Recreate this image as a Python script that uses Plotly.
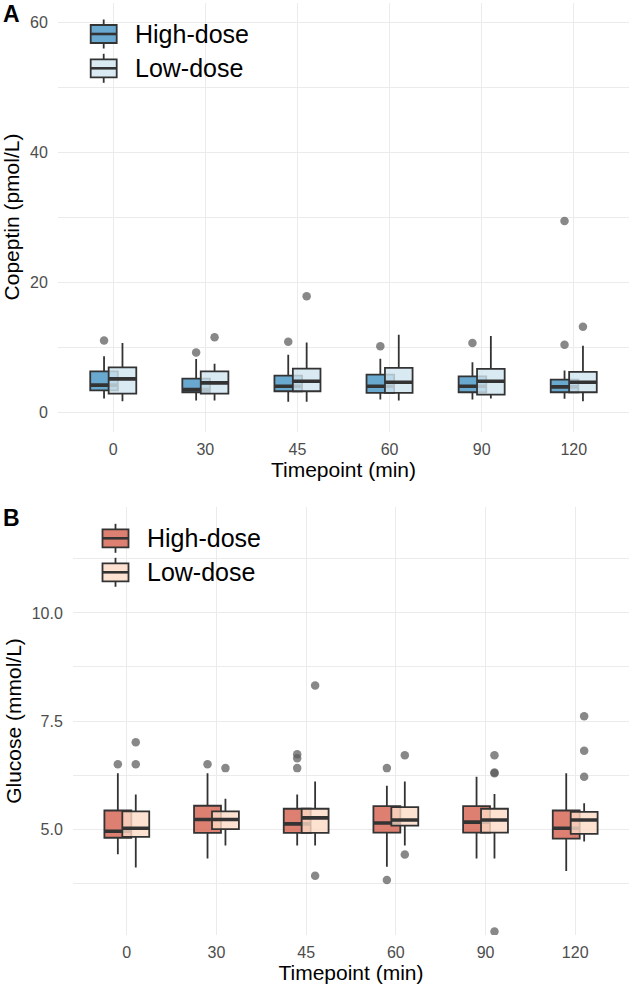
import plotly.graph_objects as go

# ---------------- data ----------------
timepoints = ["0", "30", "45", "60", "90", "120"]
groups = ["High-dose", "Low-dose"]

# Panel A: Copeptin (pmol/L) box statistics
cop_high_q1 = [3.34, 3.04, 3.19, 2.94, 3.04, 3.04]
cop_high_med = [4.14, 3.45, 3.96, 3.96, 3.96, 3.87]
cop_high_q3 = [6.26, 5.14, 5.60, 5.75, 5.49, 4.98]
cop_high_lo = [2.07, 1.76, 1.56, 1.92, 1.92, 2.02]
cop_high_hi = [8.56, 8.16, 8.82, 8.20, 7.64, 6.37]
cop_high_out_t = ["0", "30", "45", "60", "90", "120", "120"]
cop_high_out_v = [11.0, 9.17, 10.8, 10.1, 10.6, 10.35, 29.4]

cop_low_q1 = [2.84, 2.84, 3.19, 2.94, 2.68, 3.04]
cop_low_med = [5.09, 4.48, 4.72, 4.57, 4.72, 4.57]
cop_low_q3 = [6.87, 6.26, 6.67, 6.78, 6.63, 6.17]
cop_low_lo = [1.66, 1.76, 1.56, 1.76, 2.07, 1.66]
cop_low_hi = [10.6, 7.44, 10.7, 11.9, 11.7, 10.2]
cop_low_out_t = ["30", "45", "120"]
cop_low_out_v = [11.5, 17.8, 13.1]

# Panel B: Glucose (mmol/L) box statistics
glu_high_q1 = [4.80, 4.91, 4.91, 4.92, 4.92, 4.78]
glu_high_med = [4.95, 5.22, 5.12, 5.14, 5.16, 5.02]
glu_high_q3 = [5.43, 5.54, 5.47, 5.53, 5.53, 5.43]
glu_high_lo = [4.42, 4.32, 4.62, 4.13, 4.32, 4.03]
glu_high_hi = [6.29, 6.29, 5.80, 6.00, 6.21, 6.29]
glu_high_out_t = ["0", "30", "45", "45", "45", "60", "60"]
glu_high_out_v = [6.50, 6.50, 6.41, 6.64, 6.73, 3.82, 6.41]

glu_low_q1 = [4.82, 5.00, 4.91, 5.08, 4.92, 4.89]
glu_low_med = [5.02, 5.22, 5.26, 5.21, 5.21, 5.21]
glu_low_q3 = [5.41, 5.41, 5.47, 5.51, 5.47, 5.40]
glu_low_lo = [4.11, 4.62, 4.62, 4.62, 4.32, 4.71]
glu_low_hi = [5.80, 5.70, 6.10, 6.10, 5.81, 5.60]
glu_low_out_t = ["0", "0", "30", "45", "45", "60", "60", "90", "90", "90", "90", "120", "120", "120"]
glu_low_out_v = [6.50, 7.01, 6.41, 3.92, 8.32, 4.41, 6.71, 6.71, 6.31, 6.29, 2.63, 7.61, 6.81, 6.21]

# ---------------- styling ----------------
W, H = 632, 991
FONT = "Liberation Sans, Arial, Helvetica, sans-serif"
EDGE = "#333333"
GRID = "#EBEBEB"
OUT_COL = "rgba(90,90,90,0.72)"
BLUE_HIGH = "rgba(67,147,195,0.8)"
BLUE_LOW = "rgba(209,229,240,0.8)"
RED_HIGH = "rgba(214,96,77,0.8)"
RED_LOW = "rgba(253,219,199,0.8)"
BOX_W = 0.3
DODGE = 0.1


def pxx(x):
    return x / W


def pxy(y):
    return 1 - y / H


idx = {t: i for i, t in enumerate(timepoints)}

fig = go.Figure()


def add_group(q1, med, q3, lo, hi, out_t, out_v, fill, offset, xa, ya):
    xpos = [i + offset for i in range(len(timepoints))]
    fig.add_trace(go.Box(
        x=xpos, q1=q1, median=med, q3=q3, lowerfence=lo, upperfence=hi,
        width=BOX_W, whiskerwidth=0, fillcolor=fill,
        line=dict(color=EDGE, width=1.8), boxpoints=False,
        xaxis=xa, yaxis=ya, showlegend=False, hoverinfo="skip"))
    # thicker median bar (ggplot style)
    fig.add_trace(go.Box(
        x=xpos, q1=med, median=med, q3=med, lowerfence=med, upperfence=med,
        width=BOX_W, whiskerwidth=0, fillcolor="rgba(0,0,0,0)",
        line=dict(color=EDGE, width=3.6), boxpoints=False,
        xaxis=xa, yaxis=ya, showlegend=False, hoverinfo="skip"))
    fig.add_trace(go.Scatter(
        x=[idx[t] + offset for t in out_t], y=out_v, mode="markers",
        marker=dict(color=OUT_COL, size=8.5, line=dict(width=0)),
        xaxis=xa, yaxis=ya, showlegend=False, hoverinfo="skip", cliponaxis=True))


# Panel A
add_group(cop_high_q1, cop_high_med, cop_high_q3, cop_high_lo, cop_high_hi,
          cop_high_out_t, cop_high_out_v, BLUE_HIGH, -DODGE, "x", "y")
add_group(cop_low_q1, cop_low_med, cop_low_q3, cop_low_lo, cop_low_hi,
          cop_low_out_t, cop_low_out_v, BLUE_LOW, DODGE, "x", "y")
# Panel B
add_group(glu_high_q1, glu_high_med, glu_high_q3, glu_high_lo, glu_high_hi,
          glu_high_out_t, glu_high_out_v, RED_HIGH, -DODGE, "x2", "y2")
add_group(glu_low_q1, glu_low_med, glu_low_q3, glu_low_lo, glu_low_hi,
          glu_low_out_t, glu_low_out_v, RED_LOW, DODGE, "x2", "y2")

tickfont = dict(family=FONT, size=16, color="#4D4D4D")
titlefont = dict(family=FONT, size=21, color="#000000")

xcommon = dict(
    tickmode="array", tickvals=list(range(len(timepoints))), ticktext=timepoints,
    range=[-0.6, len(timepoints) - 0.4], showgrid=True, gridcolor=GRID, gridwidth=1.2,
    zeroline=False, showline=False, ticks="outside", ticklen=3,
    tickcolor="rgba(0,0,0,0)", tickfont=tickfont, automargin=False,
    title=dict(text="Timepoint (min)", font=titlefont, standoff=2),
)
ycommon = dict(
    showgrid=True, gridcolor=GRID, gridwidth=1.2, zeroline=False, showline=False,
    ticks="outside", ticklen=6, tickcolor="rgba(0,0,0,0)", tickfont=tickfont,
    automargin=False,
)

fig.update_layout(
    width=W, height=H, margin=dict(l=0, r=0, t=0, b=0),
    paper_bgcolor="white", plot_bgcolor="white",
    boxmode="overlay", showlegend=False,
    font=dict(family=FONT),
    xaxis=dict(domain=[pxx(58), pxx(629)], anchor="y", **xcommon),
    yaxis=dict(domain=[pxy(431.5), pxy(2.5)], anchor="x", range=[-3, 63],
               tickmode="array", tickvals=[0, 20, 40, 60],
               minor=dict(tickmode="array", tickvals=[10, 30, 50], showgrid=True,
                          gridcolor=GRID, gridwidth=0.7, ticks=""),
               title=dict(text="Copeptin (pmol/L)", font=titlefont, standoff=4),
               **ycommon),
    xaxis2=dict(domain=[pxx(73), pxx(629)], anchor="y2", **xcommon),
    yaxis2=dict(domain=[pxy(935), pxy(507)], anchor="x2", range=[2.55, 12.45],
                tickmode="array", tickvals=[5, 7.5, 10], ticktext=["5.0", "7.5", "10.0"],
                minor=dict(tickmode="array", tickvals=[3.75, 6.25, 8.75, 11.25], showgrid=True,
                           gridcolor=GRID, gridwidth=0.7, ticks=""),
                title=dict(text="Glucose (mmol/L)", font=titlefont, standoff=4),
                **ycommon),
)

# ---------------- legends (ggplot-like boxplot keys) ----------------
shapes = []
annotations = []


def legend_key(cx, cy, fill, label):
    bw, bh, wl = 13, 9, 14.5
    shapes.append(dict(type="line", xref="paper", yref="paper",
                       x0=pxx(cx), x1=pxx(cx), y0=pxy(cy - wl), y1=pxy(cy - bh),
                       line=dict(color=EDGE, width=1.8)))
    shapes.append(dict(type="line", xref="paper", yref="paper",
                       x0=pxx(cx), x1=pxx(cx), y0=pxy(cy + bh), y1=pxy(cy + wl),
                       line=dict(color=EDGE, width=1.8)))
    shapes.append(dict(type="rect", xref="paper", yref="paper",
                       x0=pxx(cx - bw), x1=pxx(cx + bw), y0=pxy(cy + bh), y1=pxy(cy - bh),
                       fillcolor=fill, line=dict(color=EDGE, width=1.8)))
    shapes.append(dict(type="line", xref="paper", yref="paper",
                       x0=pxx(cx - bw), x1=pxx(cx + bw), y0=pxy(cy), y1=pxy(cy),
                       line=dict(color=EDGE, width=2.6)))
    annotations.append(dict(text=label, xref="paper", yref="paper",
                            x=pxx(cx + 29), y=pxy(cy), xanchor="left", yanchor="middle",
                            showarrow=False, font=dict(family=FONT, size=25, color="#000000")))


legend_key(103.7, 34.0, BLUE_HIGH, groups[0])
legend_key(103.7, 68.3, BLUE_LOW, groups[1])
legend_key(115.5, 538.3, RED_HIGH, groups[0])
legend_key(115.5, 572.3, RED_LOW, groups[1])

annotations.append(dict(text="<b>A</b>", xref="paper", yref="paper", x=pxx(1), y=pxy(14),
                        xanchor="left", yanchor="middle", showarrow=False,
                        font=dict(family=FONT, size=23, color="#000000")))
annotations.append(dict(text="<b>B</b>", xref="paper", yref="paper", x=pxx(1), y=pxy(518),
                        xanchor="left", yanchor="middle", showarrow=False,
                        font=dict(family=FONT, size=23, color="#000000")))

fig.update_layout(shapes=shapes, annotations=annotations)

# remove the browser's default 8 px body margin so the figure fills the window
fig.write_html("out.html", config={"displayModeBar": False},
               post_script="document.body.style.margin='0px';")
